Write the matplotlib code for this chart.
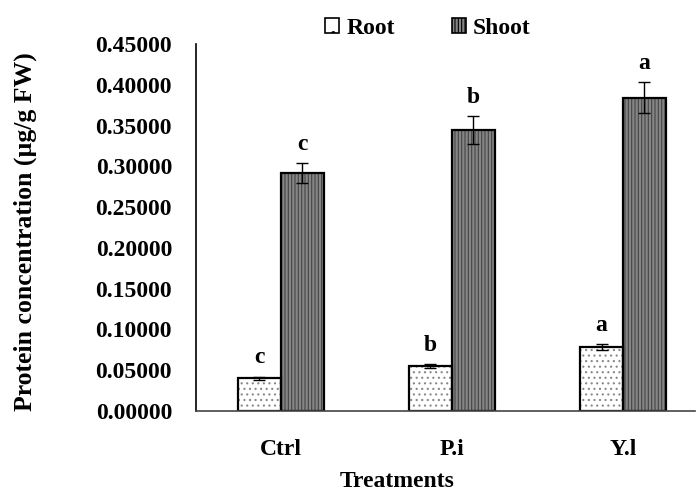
import numpy as np
import matplotlib
matplotlib.use('Agg')
import matplotlib.pyplot as plt
from matplotlib.patches import Patch

plt.rcParams['font.family'] = ['Liberation Serif', 'DejaVu Serif']
plt.rcParams['font.weight'] = 'bold'
plt.rcParams['hatch.linewidth'] = 0.8

treatments = ['Ctrl', 'P.i', 'Y.l']
root = [0.0400, 0.0550, 0.0785]
shoot = [0.2920, 0.3445, 0.3840]
root_err = [0.0020, 0.0025, 0.0035]
shoot_err = [0.0120, 0.0170, 0.0190]
root_sig = ['c', 'b', 'a']
shoot_sig = ['c', 'b', 'a']

fs = 17

fig = plt.figure(figsize=(6.99, 4.91), dpi=100)
ax = fig.add_axes([0.280, 0.163, 0.714, 0.747])

x = np.arange(len(treatments))
w = 0.25

# fill + hatch first, then black outline on top
ax.bar(x - w/2, root, w, color='white', edgecolor='#888888', hatch='...', linewidth=0)
ax.bar(x + w/2, shoot, w, color='#858585', edgecolor='#454545', hatch='|||||', linewidth=0)
ax.bar(x - w/2, root, w, fill=False, edgecolor='black', linewidth=1.6)
ax.bar(x + w/2, shoot, w, fill=False, edgecolor='black', linewidth=1.6)

ax.errorbar(x - w/2, root, yerr=root_err, fmt='none', ecolor='black', elinewidth=1, capsize=4.5, capthick=1)
ax.errorbar(x + w/2, shoot, yerr=shoot_err, fmt='none', ecolor='black', elinewidth=1, capsize=4.5, capthick=1)

for i in range(len(treatments)):
    ax.annotate(root_sig[i], (x[i] - w/2, root[i] + root_err[i]), xytext=(0, 6),
                textcoords='offset points', ha='center', va='bottom', fontsize=fs, fontweight='bold')
    ax.annotate(shoot_sig[i], (x[i] + w/2, shoot[i] + shoot_err[i]), xytext=(0, 6),
                textcoords='offset points', ha='center', va='bottom', fontsize=fs, fontweight='bold')

ax.set_xlim(-0.497, 2.42)
ax.set_ylim(0, 0.45)
ticks = np.arange(0, 0.451, 0.05)
ax.set_yticks(ticks)
ax.set_yticklabels(['%.5f' % v for v in ticks])
ax.set_xticks(x)
ax.set_xticklabels(treatments)
ax.tick_params(axis='both', length=0, labelsize=fs)
ax.tick_params(axis='y', pad=17)
ax.tick_params(axis='x', pad=20)
for lab in ax.get_xticklabels() + ax.get_yticklabels():
    lab.set_fontweight('bold')

ax.spines['top'].set_visible(False)
ax.spines['right'].set_visible(False)
ax.spines['left'].set_linewidth(1.2)
ax.spines['bottom'].set_linewidth(1.2)
ax.spines['bottom'].set_color('#444444')

ax.set_xlabel('Treatments', fontsize=fs, fontweight='bold')
ax.xaxis.set_label_coords(0.403, -0.163)
ax.set_ylabel('Protein concentration (µg/g FW)', fontsize=18.5, fontweight='bold')
ax.yaxis.set_label_coords(-0.318, 0.49)

h1 = Patch(facecolor='white', edgecolor='black', hatch='.', linewidth=1.2)
h2 = Patch(facecolor='#858585', edgecolor='black', hatch='|||||', linewidth=1.2)
ax.legend([h1, h2], ['Root', 'Shoot'], loc='center', bbox_to_anchor=(0.465, 1.044), ncol=2,
          frameon=False, fontsize=fs, handlelength=0.6, handleheight=0.6, columnspacing=2.4,
          handletextpad=0.3, borderaxespad=0)

fig.savefig('out.png', dpi=100)
